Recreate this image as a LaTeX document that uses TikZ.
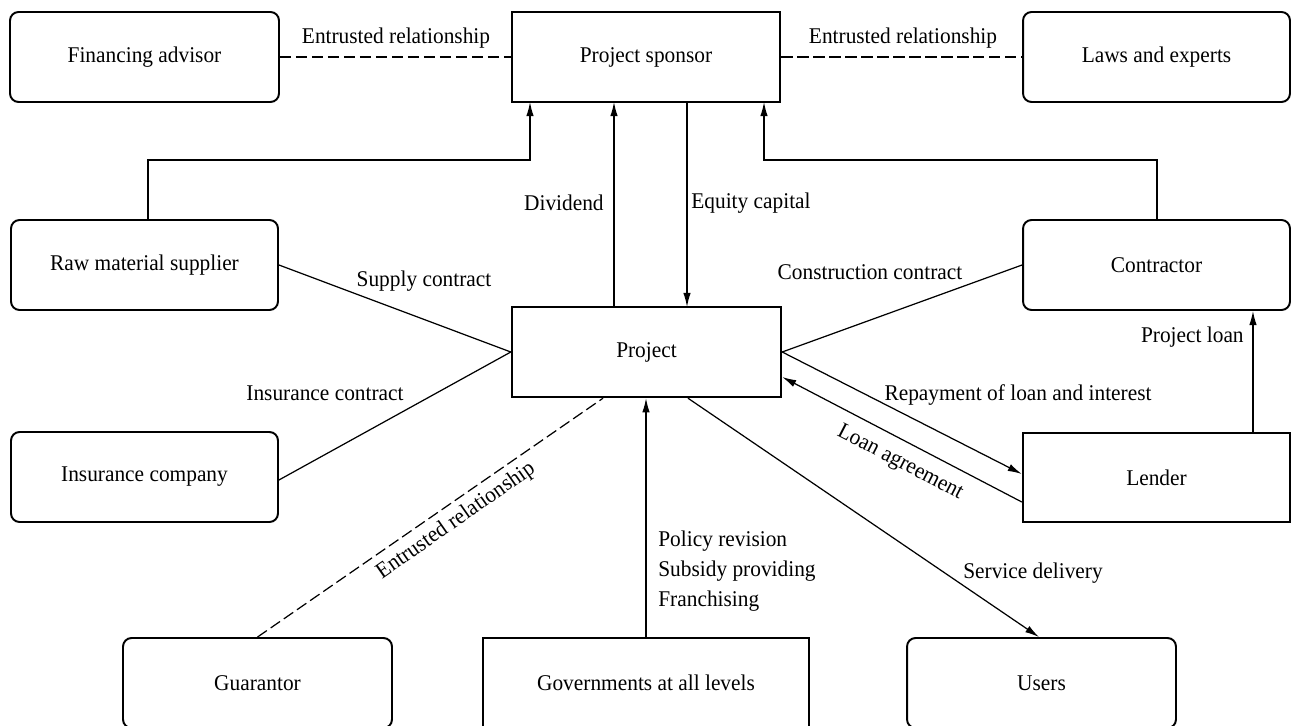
\documentclass[tikz,border=0pt]{standalone}
\usepackage{fontspec}
\setmainfont[FakeStretch=0.95]{Liberation Serif}
\usetikzlibrary{arrows.meta,calc}
\begin{document}
\begin{tikzpicture}[x=0.02cm,y=-0.02cm,
  every node/.style={font=\fontsize{12.8}{14}\selectfont},
  rbox/.style={draw,line width=1.1pt,rounded corners=0.17cm,minimum height=1.8cm,inner sep=0pt},
  sbox/.style={draw,line width=1.4pt,minimum height=1.8cm,inner sep=0pt},
  conn/.style={line width=0.7pt},
  arr/.style={conn,-{Latex[length=8pt,width=4.2pt]}},
  dconn/.style={conn,dash pattern=on 6.5pt off 2.6pt},
  lbl/.style={inner sep=0pt}]
\clip (0,0) rectangle (1295,726);
\fill[white] (0,0) rectangle (1295,726);
% boxes
\node[rbox,minimum width=5.38cm] (fin) at (144.5,57) {Financing advisor};
\node[sbox,minimum width=5.36cm] (spon) at (646,57) {Project sponsor};
\node[rbox,minimum width=5.34cm] (laws) at (1156.5,57) {Laws and experts};
\node[rbox,minimum width=5.34cm] (raw) at (144.5,265) {Raw material supplier};
\node[rbox,minimum width=5.34cm] (contr) at (1156.5,265) {Contractor};
\node[sbox,minimum width=5.38cm] (proj) at (646.5,352) {Project};
\node[rbox,minimum width=5.34cm] (ins) at (144.5,477) {Insurance company};
\node[sbox,minimum width=5.34cm,minimum height=1.78cm] (lend) at (1156.5,477.5) {Lender};
\node[rbox,minimum width=5.38cm] (guar) at (257.5,683) {Guarantor};
\node[sbox,minimum width=6.52cm] (gov) at (646,683) {Governments at all levels};
\node[rbox,minimum width=5.38cm] (users) at (1041.5,683) {Users};
% helper coordinates
\coordinate (rawTop) at ([xshift=0.07cm]raw.north);
\coordinate (hL) at (530,160);
\coordinate (sA) at (530,102);
\coordinate (conTop) at (1157,220);
\coordinate (hR) at (764,160);
\coordinate (sB) at (764,102);
\coordinate (pDiv) at (614,307);
\coordinate (sDiv) at (614,102);
\coordinate (sEq) at (687,102);
\coordinate (pEq) at (687,307);
\coordinate (lRep) at ([yshift=0.07cm]lend.west);
\coordinate (lLoan) at ([yshift=-0.49cm]lend.west);
\coordinate (pLoan) at ([yshift=-0.5cm]proj.east);
\coordinate (lTop) at ([xshift=1.93cm]lend.north);
\coordinate (cBot) at ([xshift=1.93cm]contr.south);
\coordinate (pGuar) at ([xshift=-0.87cm]proj.south);
\coordinate (pUsers) at ([xshift=0.83cm]proj.south);
\coordinate (uTop) at ([xshift=-0.05cm]users.north);
% connectors
\draw[dconn] (fin.east) -- (spon.west);
\draw[dconn] (spon.east) -- (laws.west);
\draw[arr] (rawTop) |- (hL) -- (sA);
\draw[arr] (conTop) |- (hR) -- (sB);
\draw[arr] (pDiv) -- (sDiv);
\draw[arr] (sEq) -- (pEq);
\draw[conn] (raw.east) -- (proj.west);
\draw[conn] ([yshift=-0.06cm]ins.east) -- (proj.west);
\draw[conn] (contr.west) -- (proj.east);
\draw[arr] (proj.east) -- (lRep);
\draw[arr] (lLoan) -- (pLoan);
\draw[arr] (lTop) -- (cBot);
\draw[dconn] (guar.north) -- (pGuar);
\draw[arr] (gov.north) -- (gov.north |- proj.south);
\draw[arr] (pUsers) -- (uTop);
% labels
\node[lbl] (l1) at (396,38) {Entrusted relationship};
\node[lbl] (l2) at (903,38) {Entrusted relationship};
\node[lbl,anchor=east] (l3) at (604,203) {Dividend};
\node[lbl,anchor=west] (l4) at (691,203) {Equity capital};
\node[lbl] (l5) at (424,281) {Supply contract};
\node[lbl] (l6) at (325,393) {Insurance contract};
\node[lbl] (l7) at (870,272) {Construction contract};
\node[lbl] (l8) at (1018,395) {Repayment of loan and interest};
\node[lbl,rotate=-27.3] (l9) at (900,463) {Loan agreement};
\node[lbl,anchor=east] (l10) at (1244,337) {Project loan};
\node[lbl,rotate=35] (l11) at (456,521) {Entrusted relationship};
\node[lbl,anchor=west,align=left,font=\fontsize{12.8}{17}\selectfont] (l12) at (658,571) {Policy revision\\Subsidy providing\\Franchising};
\node[lbl] (l13) at (1033,573) {Service delivery};
\end{tikzpicture}
\end{document}
